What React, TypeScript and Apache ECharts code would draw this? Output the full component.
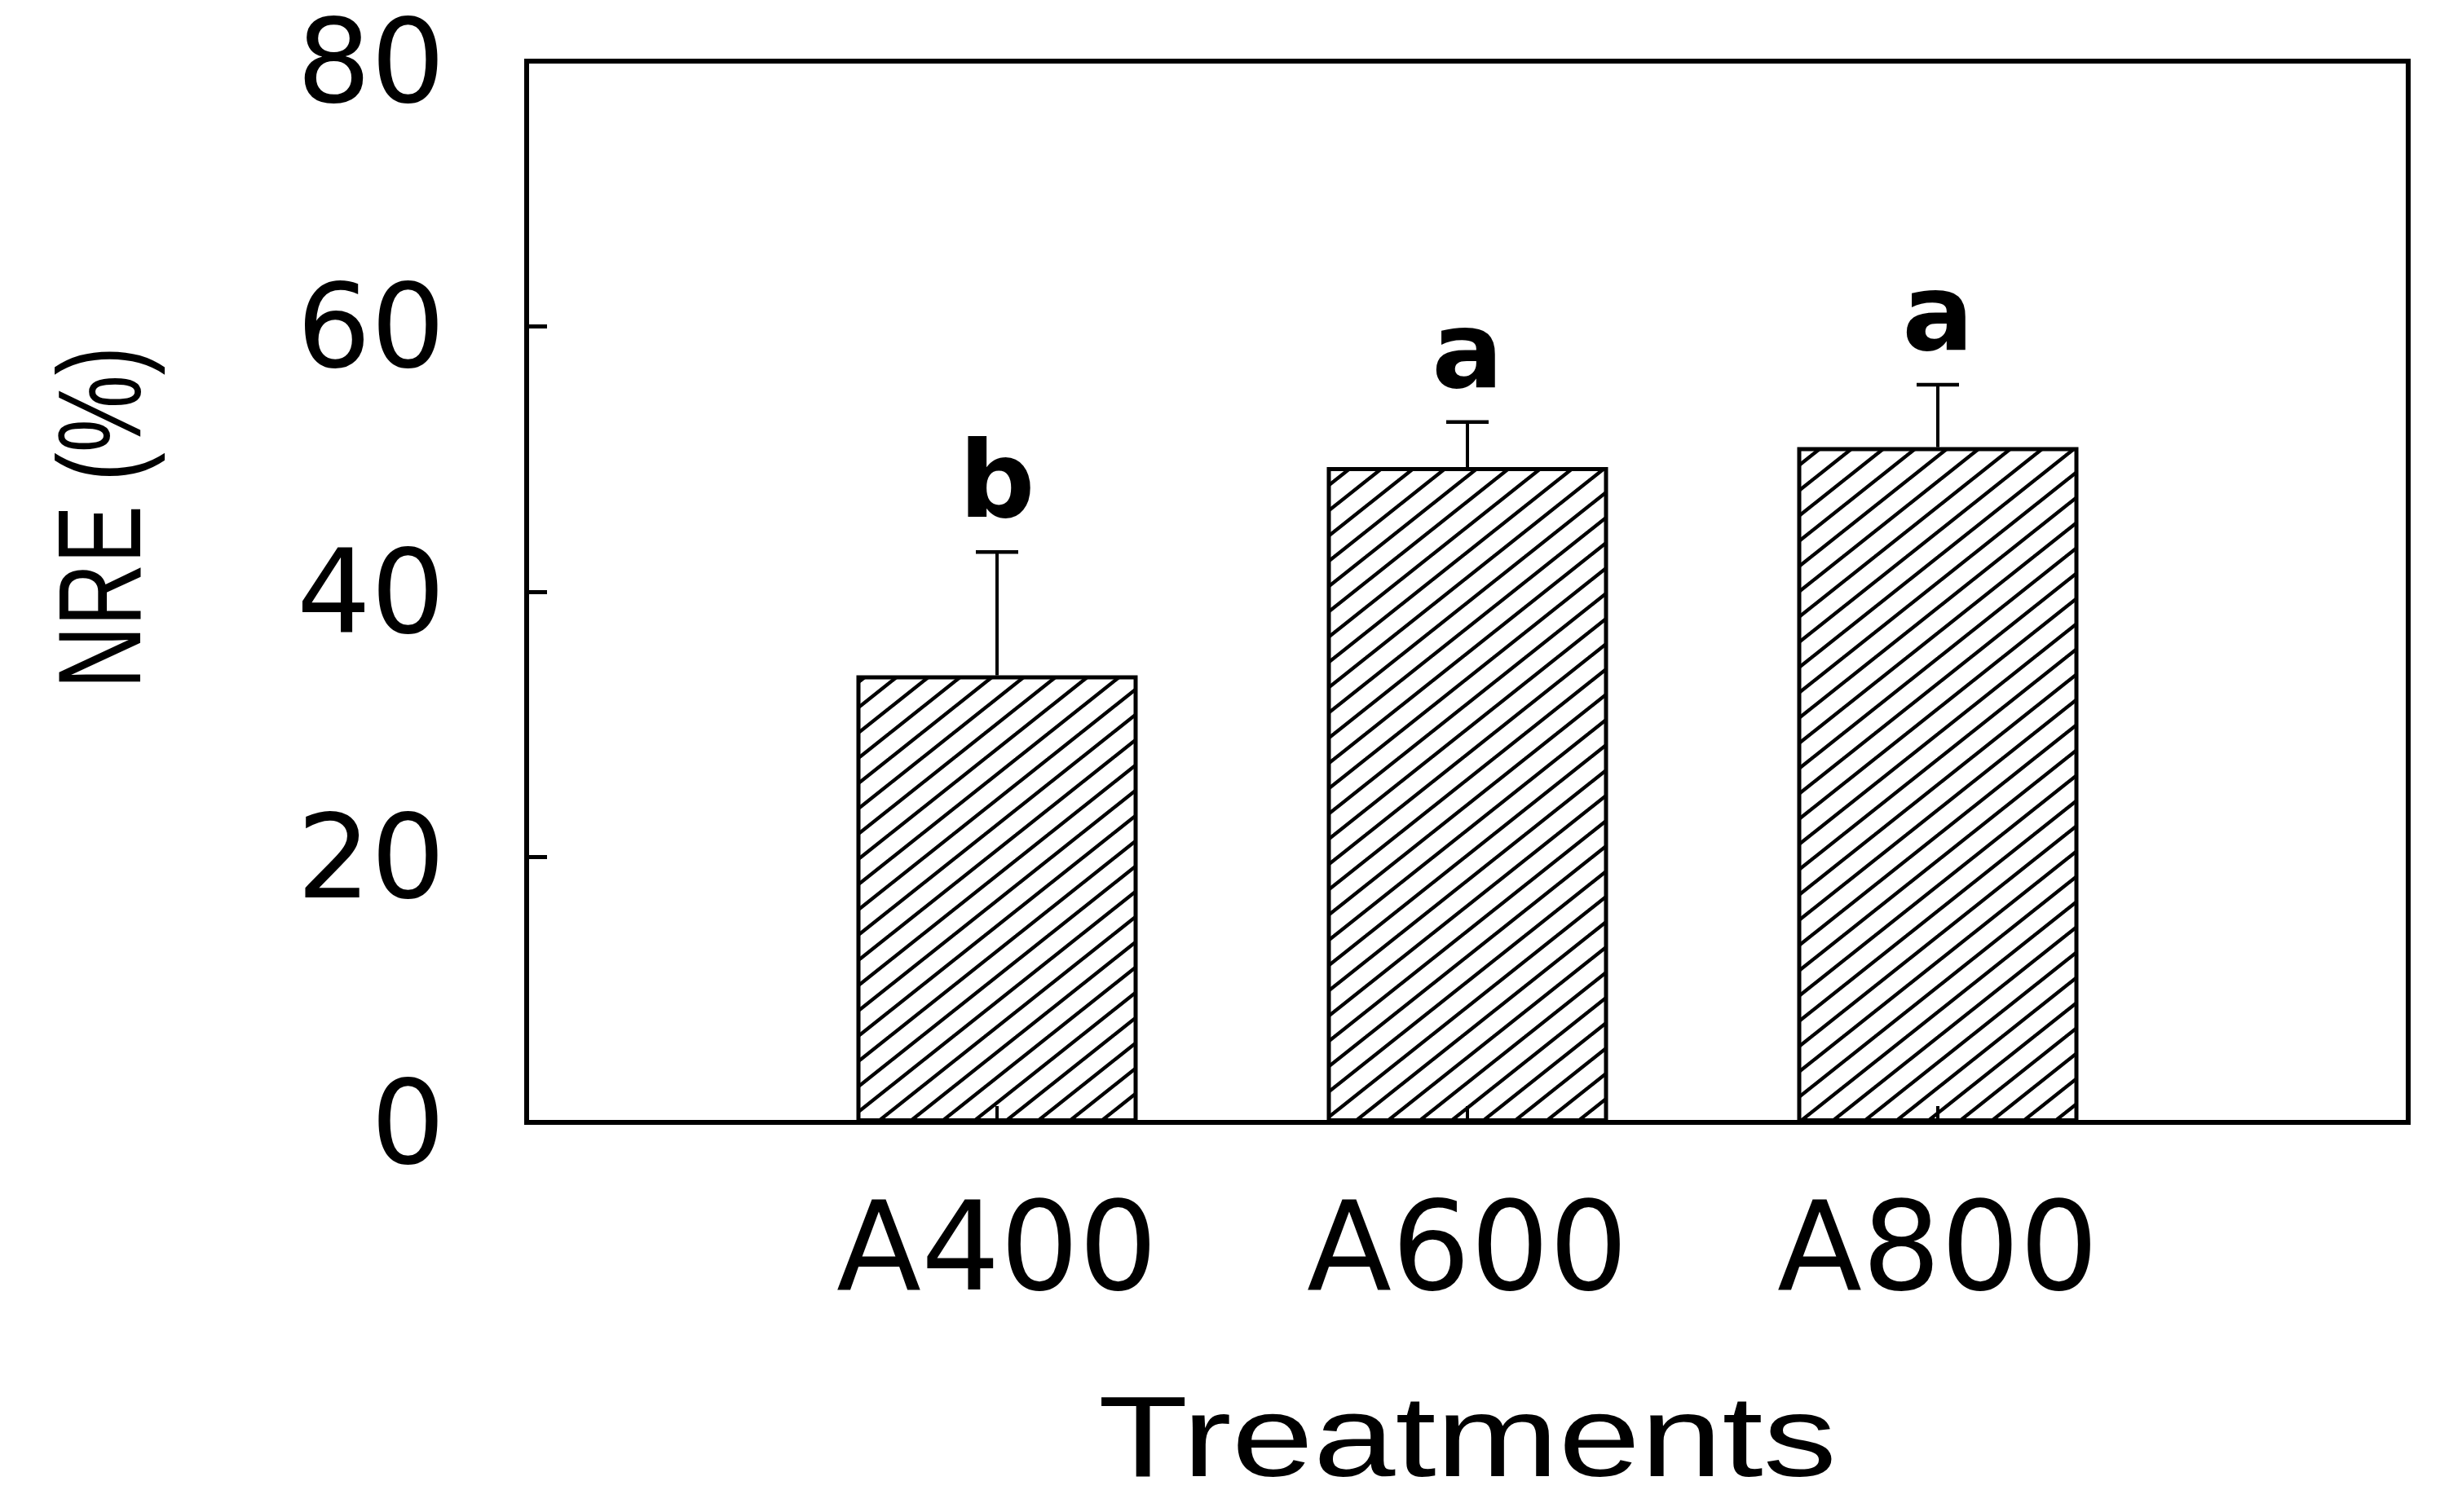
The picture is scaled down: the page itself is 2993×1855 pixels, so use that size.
import React, { useEffect, useRef } from "react";
import * as echarts from "echarts";

const categories = ["A400", "A600", "A800"];
const nreMeans = [33.7, 49.4, 50.9];
const nreErrors = [9.3, 3.4, 4.7];
const sigLetters = ["b", "a", "a"];
const yMin = 0;
const yMax = 80;
const yStep = 20;

const FONT = '"DejaVu Sans", "Liberation Sans", Arial, sans-serif';
const ARIAL = '"Liberation Sans", Arial, sans-serif';

function hatchPattern() {
  const w = 39;
  const h = 31;
  const svg =
    `<svg xmlns="http://www.w3.org/2000/svg" width="${w}" height="${h}">` +
    `<g stroke="#000" stroke-width="4.4" stroke-linecap="square">` +
    `<line x1="0" y1="${h}" x2="${w}" y2="0"/>` +
    `<line x1="${-w}" y1="${h}" x2="0" y2="0"/>` +
    `<line x1="${w}" y1="${h}" x2="${2 * w}" y2="0"/>` +
    `</g></svg>`;
  return {
    image: "data:image/svg+xml;base64," + btoa(svg),
    repeat: "repeat",
    imageWidth: w,
    imageHeight: h,
  };
}

export default function App() {
  const ref = useRef<HTMLDivElement>(null);

  useEffect(() => {
    if (!ref.current) return;
    const chart = echarts.init(ref.current, undefined, { renderer: "svg" });
    const axisData = ["", ...categories, ""];
    const barData: any[] = ["-", ...nreMeans, "-"];
    const errData = categories.map((c, i) => [i + 1, nreMeans[i], nreErrors[i]]);

    chart.setOption({
      animation: false,
      backgroundColor: "#fff",
      grid: {
        left: 646,
        right: 39,
        top: 75,
        bottom: 478,
        show: true,
        borderColor: "#000",
        borderWidth: 6,
        backgroundColor: "transparent",
      },
      xAxis: {
        type: "category",
        data: axisData,
        boundaryGap: false,
        axisLine: { show: true, lineStyle: { color: "#000", width: 6 } },
        axisTick: { show: true, inside: true, length: 20, lineStyle: { color: "#000", width: 4 } },
        axisLabel: { fontFamily: FONT, fontSize: 152, color: "#000", margin: 76 },
        splitLine: { show: false },
      },
      yAxis: {
        type: "value",
        min: yMin,
        max: yMax,
        interval: yStep,
        axisLine: { show: true, lineStyle: { color: "#000", width: 6 } },
        axisTick: { show: true, inside: true, length: 25, lineStyle: { color: "#000", width: 5 } },
        axisLabel: { fontFamily: FONT, fontSize: 143, lineHeight: 120, color: "#000", margin: 100 },
        splitLine: { show: false },
      },
      graphic: [
        {
          type: "text",
          x: 122,
          y: 635,
          rotation: Math.PI / 2,
          scaleX: 0.74,
          style: {
            text: "NRE (%)",
            fontFamily: ARIAL,
            fontSize: 144,
            fill: "#000",
            align: "center",
            verticalAlign: "middle",
          },
        },
        {
          type: "text",
          x: 1800,
          y: 1762,
          scaleX: 1.28,
          style: {
            text: "Treatments",
            fontFamily: ARIAL,
            fontSize: 141,
            fill: "#000",
            align: "center",
            verticalAlign: "middle",
          },
        },
      ],
      series: [
        {
          type: "bar",
          data: barData,
          barWidth: 345,
          itemStyle: {
            color: hatchPattern(),
            borderColor: "#000",
            borderWidth: 5,
          },
        },
        {
          type: "custom",
          data: errData,
          renderItem: (params: any, api: any) => {
            const x = api.value(0);
            const m = api.value(1);
            const e = api.value(2);
            const pBar = api.coord([x, m]);
            const pTop = api.coord([x, m + e]);
            return {
              type: "group",
              children: [
                {
                  type: "line",
                  shape: { x1: pBar[0], y1: pBar[1], x2: pTop[0], y2: pTop[1] },
                  style: { stroke: "#000", lineWidth: 4 },
                },
                {
                  type: "line",
                  shape: { x1: pTop[0] - 26, y1: pTop[1], x2: pTop[0] + 26, y2: pTop[1] },
                  style: { stroke: "#000", lineWidth: 4.5 },
                },
                {
                  type: "text",
                  x: pTop[0],
                  y: pTop[1] - 88,
                  style: {
                    text: sigLetters[params.dataIndex],
                    fontFamily: FONT,
                    fontWeight: "bold",
                    fontSize: 130,
                    fill: "#000",
                    align: "center",
                    verticalAlign: "middle",
                  },
                },
              ],
            };
          },
        },
      ],
    });
    return () => chart.dispose();
  }, []);

  return (
    <div
      ref={ref}
      style={{ position: "fixed", left: 0, top: 0, width: 2993, height: 1855, background: "#fff" }}
    />
  );
}
